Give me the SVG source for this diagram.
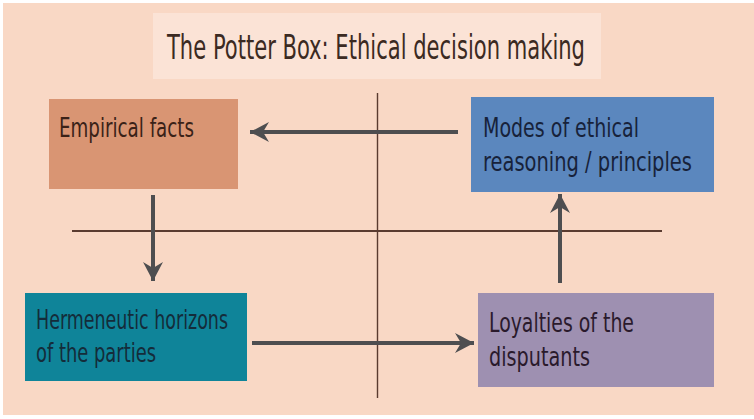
<svg xmlns="http://www.w3.org/2000/svg" width="754" height="419" viewBox="0 0 754 419">
<style>
.t{font-family:"DejaVu Sans Condensed","DejaVu Sans","Liberation Sans",sans-serif;font-stretch:condensed;font-size:27px}
.title{font-family:"DejaVu Sans Condensed","DejaVu Sans","Liberation Sans",sans-serif;font-stretch:condensed;font-size:34px;fill:#3b2a22}
.axis{stroke:#5a3b30;fill:none}
.arr{stroke:#4e4e50;stroke-width:4;fill:none;marker-end:url(#ah)}
</style>
<defs>
<marker id="ah" markerUnits="userSpaceOnUse" markerWidth="20" markerHeight="20" refX="19" refY="10" orient="auto" viewBox="0 0 20 20">
<path d="M19,10 L0,0 L6,10 L0,20 Z" fill="#4e4e50"/>
</marker>
</defs>
<rect x="0" y="0" width="754" height="419" fill="#ffffff"/>
<rect x="3" y="3" width="751" height="412" fill="#F9D8C5"/>
<g id="title">
<rect x="153" y="13" width="448" height="66" fill="#FBE3D6"/>
<text class="title" x="167" y="59" textLength="418" lengthAdjust="spacingAndGlyphs">The Potter Box: Ethical decision making</text>
</g>
<g id="axes">
<line class="axis" x1="377.5" y1="93" x2="377.5" y2="398" stroke-width="1.4"/>
<line class="axis" x1="72" y1="231" x2="662" y2="231" stroke-width="1.8"/>
</g>
<g id="empirical">
<rect x="49" y="99" width="189" height="90" fill="#D99573"/>
<text class="t" x="59" y="137" fill="#3a2218" textLength="135" lengthAdjust="spacingAndGlyphs">Empirical facts</text>
</g>
<g id="modes">
<rect x="471" y="97" width="243" height="95" fill="#5B87BE"/>
<text class="t" x="483" y="137" fill="#17223a" textLength="156" lengthAdjust="spacingAndGlyphs">Modes of ethical</text>
<text class="t" x="483" y="171" fill="#17223a" textLength="209" lengthAdjust="spacingAndGlyphs">reasoning / principles</text>
</g>
<g id="hermeneutic">
<rect x="25" y="293" width="222" height="88" fill="#0F8499"/>
<text class="t" x="36" y="329" fill="#142c3a" textLength="192" lengthAdjust="spacingAndGlyphs">Hermeneutic horizons</text>
<text class="t" x="36" y="362" fill="#142c3a" textLength="120" lengthAdjust="spacingAndGlyphs">of the parties</text>
</g>
<g id="loyalties">
<rect x="478" y="293" width="236" height="94" fill="#9E90B1"/>
<text class="t" x="489" y="332" fill="#2a1a2c" textLength="145" lengthAdjust="spacingAndGlyphs">Loyalties of the</text>
<text class="t" x="489" y="366" fill="#2a1a2c" textLength="101" lengthAdjust="spacingAndGlyphs">disputants</text>
</g>
<g id="connectors">
<line class="arr" x1="458" y1="132" x2="250" y2="132"/>
<line class="arr" x1="153" y1="195" x2="153" y2="281"/>
<line class="arr" x1="252" y1="343" x2="474" y2="343"/>
<line class="arr" x1="560" y1="283" x2="560" y2="194"/>
</g>
</svg>
